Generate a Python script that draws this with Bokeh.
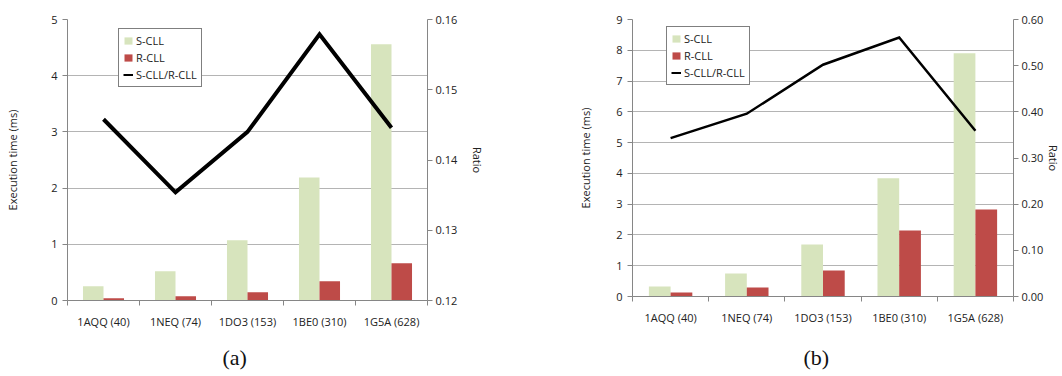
import numpy as np
from bokeh.plotting import figure
from bokeh.models import (ColumnDataSource, Range1d, LinearAxis, FixedTicker,
                          PrintfTickFormatter, Legend, LegendItem, Title)
from bokeh.transform import dodge
from bokeh.layouts import row
from bokeh.embed import file_html
from bokeh.resources import INLINE

# ---------------- data ----------------
categories = ["1AQQ (40)", "1NEQ (74)", "1DO3 (153)", "1BE0 (310)", "1G5A (628)"]

a_scll = [0.255, 0.52, 1.07, 2.19, 4.56]
a_rcll = [0.04, 0.077, 0.148, 0.344, 0.664]
a_ratio = [0.1458, 0.1354, 0.1440, 0.1579, 0.1446]

b_scll = [0.325, 0.748, 1.69, 3.84, 7.905]
b_rcll = [0.13, 0.293, 0.846, 2.147, 2.83]
b_ratio = [0.343, 0.396, 0.502, 0.561, 0.359]

a_left_ticks = [0, 1, 2, 3, 4, 5]
a_right_ticks = [0.12, 0.13, 0.14, 0.15, 0.16]
b_left_ticks = [0, 1, 2, 3, 4, 5, 6, 7, 8, 9]
b_right_ticks = [0.0, 0.1, 0.2, 0.3, 0.4, 0.5, 0.6]

series_names = ["S-CLL", "R-CLL", "S-CLL/R-CLL"]
y_left_label = "Execution time (ms)"
y_right_label = "Ratio"
captions = ["(a)", "(b)"]

# ---------------- style ----------------
FONT = "Open Sans"
FS = "11px"
GREEN = "#d7e4bd"
RED = "#be4b48"
AXIS = "#868686"
GRID = "#b4b4b4"
TXT = "#222222"


def style_axis(ax, standoff_label):
    ax.axis_label_text_font = FONT
    ax.axis_label_text_font_size = FS
    ax.axis_label_text_font_style = "normal"
    ax.axis_label_text_color = TXT
    ax.axis_label_standoff = standoff_label
    ax.major_tick_out = 5
    ax.major_tick_in = 0
    ax.minor_tick_line_color = None
    ax.major_tick_line_color = AXIS
    ax.axis_line_color = AXIS
    ax.major_label_text_font = FONT
    ax.major_label_text_font_size = FS
    ax.major_label_text_color = TXT


def make_panel(scll, rcll, ratio, ymax, rlo, rhi, lticks, rticks, caption,
               frame_w, frame_h, mb_left, mb_right, mb_top,
               line_w, legend_xy, left_std, right_std, cap_offset, cap_standoff):
    n = len(categories)
    centers = np.arange(n) + 0.5
    bounds = np.arange(n + 1)
    src = ColumnDataSource(dict(x=centers, s=scll, r=rcll, q=ratio))

    p = figure(frame_width=frame_w, frame_height=frame_h,
               x_range=Range1d(0, n), y_range=Range1d(0, ymax),
               output_backend="svg", toolbar_location=None,
               min_border_left=mb_left, min_border_right=mb_right,
               min_border_top=mb_top, min_border_bottom=10)
    p.outline_line_color = None
    p.background_fill_color = "white"
    p.border_fill_color = "white"
    p.extra_y_ranges = {"ratio": Range1d(rlo, rhi)}

    # x axis: labels at centres, ticks at category boundaries
    xa = p.xaxis[0]
    xa.ticker = FixedTicker(ticks=list(centers), minor_ticks=list(bounds))
    xa.major_label_overrides = {float(c): lab for c, lab in zip(centers, categories)}
    xa.major_tick_out = 0
    xa.major_tick_in = 0
    xa.minor_tick_out = 5
    xa.minor_tick_in = 0
    xa.minor_tick_line_color = AXIS
    xa.axis_line_color = AXIS
    xa.major_label_standoff = 8
    xa.major_label_text_font = FONT
    xa.major_label_text_font_size = FS
    xa.major_label_text_color = TXT

    # left axis
    ya = p.yaxis[0]
    ya.ticker = FixedTicker(ticks=lticks)
    ya.axis_label = y_left_label
    style_axis(ya, left_std)
    ya.major_label_standoff = 5

    p.xgrid.visible = False
    p.ygrid.ticker = FixedTicker(ticks=lticks)
    p.ygrid.grid_line_color = GRID
    p.ygrid.grid_line_width = 1

    # right axis
    ra = LinearAxis(y_range_name="ratio", ticker=FixedTicker(ticks=rticks),
                    formatter=PrintfTickFormatter(format="%.2f"),
                    axis_label=y_right_label)
    style_axis(ra, right_std)
    ra.major_label_standoff = 3
    p.add_layout(ra, "right")

    bw = 0.285
    bs = p.vbar(x=dodge("x", -bw / 2), top="s", width=bw, source=src,
                fill_color=GREEN, line_color=None)
    br = p.vbar(x=dodge("x", bw / 2), top="r", width=bw, source=src,
                fill_color=RED, line_color=None)
    p.line("x", "q", source=src, y_range_name="ratio", line_width=line_w,
           line_color="black", line_join="miter")
    # legend-only line (thinner sample, as in the reference legend)
    dummy = ColumnDataSource(dict(x=[np.nan], y=[np.nan]))
    legend_line = p.line("x", "y", source=dummy, line_width=2, line_color="black")

    legend = Legend(items=[LegendItem(label=series_names[0], renderers=[bs]),
                           LegendItem(label=series_names[1], renderers=[br]),
                           LegendItem(label=series_names[2], renderers=[legend_line])],
                    location=legend_xy)
    legend.border_line_color = "black"
    legend.border_line_width = 1
    legend.background_fill_color = "white"
    legend.background_fill_alpha = 1
    legend.padding = 4
    legend.spacing = 2
    legend.margin = 0
    legend.glyph_width = 10
    legend.glyph_height = 9
    legend.label_height = 9
    legend.label_standoff = 3
    legend.label_text_font = FONT
    legend.label_text_font_size = FS
    legend.label_text_color = TXT
    p.add_layout(legend)

    cap = Title(text=caption, align="left", offset=cap_offset,
                standoff=cap_standoff, text_font="Liberation Serif",
                text_font_size="22px", text_font_style="normal",
                text_color="#111111")
    p.add_layout(cap, "below")
    return p


pa = make_panel(a_scll, a_rcll, a_ratio, 5, 0.12, 0.16, a_left_ticks, a_right_ticks,
                captions[0], frame_w=360, frame_h=281, mb_left=67, mb_right=100,
                mb_top=19, line_w=4, legend_xy=(51, 213),
                left_std=28, right_std=10, cap_offset=155, cap_standoff=23)
pb = make_panel(b_scll, b_rcll, b_ratio, 9, 0.0, 0.6, b_left_ticks, b_right_ticks,
                captions[1], frame_w=381, frame_h=277, mb_left=105, mb_right=49,
                mb_top=15, line_w=2.5, legend_xy=(34, 211),
                left_std=20, right_std=0, cap_offset=171, cap_standoff=31)

layout = row(pa, pb)
open("out.html", "w").write(file_html(layout, INLINE))
